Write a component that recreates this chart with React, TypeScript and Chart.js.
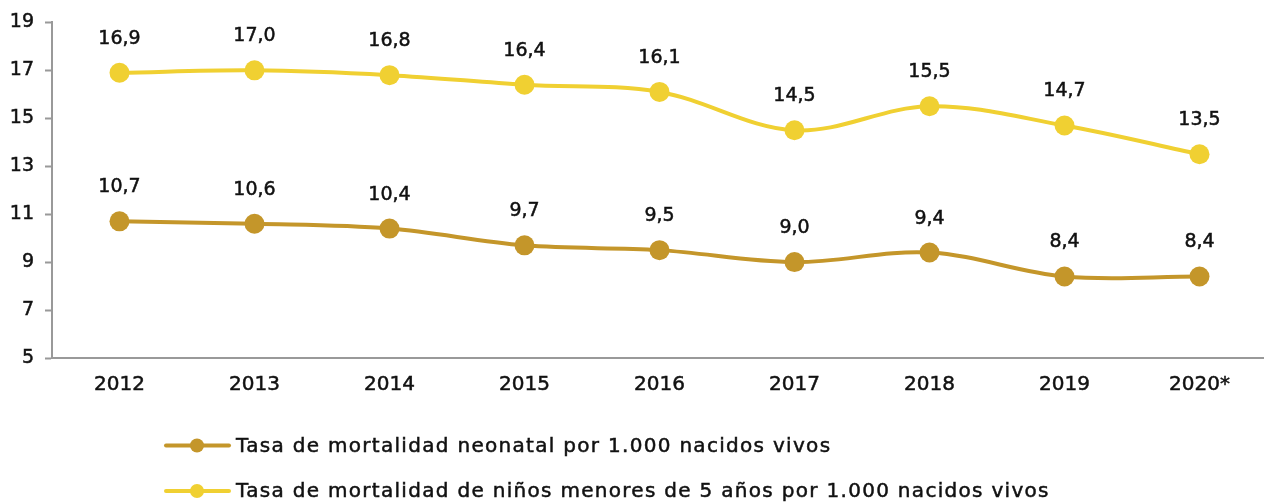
import React, { useEffect, useRef } from "react";
import { Chart, registerables } from "chart.js";
Chart.register(...registerables);

const categories = ["2012", "2013", "2014", "2015", "2016", "2017", "2018", "2019", "2020*"];
const neonatal = [10.7, 10.6, 10.4, 9.7, 9.5, 9.0, 9.4, 8.4, 8.4];
const under5 = [16.9, 17.0, 16.8, 16.4, 16.1, 14.5, 15.5, 14.7, 13.5];
const yTicks = [5, 7, 9, 11, 13, 15, 17, 19];
const seriesNames = [
  "Tasa de mortalidad neonatal por 1.000 nacidos vivos",
  "Tasa de mortalidad de niños menores de 5 años por 1.000 nacidos vivos",
];
const colors = ["#C4962A", "#F0D032"];
const FONT = "'DejaVu Sans', sans-serif";
const TEXT = "#111";
const STROKE = 0.5;

const labelPlugin = {
  id: "valueLabels",
  afterDatasetsDraw(chart: any) {
    const ctx = chart.ctx;
    ctx.save();
    ctx.font = `19px ${FONT}`;
    ctx.fillStyle = TEXT;
    ctx.strokeStyle = TEXT;
    ctx.lineWidth = STROKE;
    ctx.textAlign = "center";
    ctx.textBaseline = "alphabetic";
    chart.data.datasets.forEach((ds: any, i: number) => {
      const meta = chart.getDatasetMeta(i);
      meta.data.forEach((pt: any, j: number) => {
        const v = ds.data[j] as number;
        const s = v.toFixed(1).replace(".", ",");
        ctx.fillText(s, pt.x, pt.y - 29);
        ctx.strokeText(s, pt.x, pt.y - 29);
      });
    });
    ctx.restore();
  },
};

const legendPlugin = {
  id: "customLegend",
  afterDraw(chart: any) {
    const ctx = chart.ctx;
    ctx.save();
    const rows = [445.5, 491];
    seriesNames.forEach((name, i) => {
      const y = rows[i];
      ctx.strokeStyle = colors[i];
      ctx.lineWidth = 4;
      ctx.lineCap = "round";
      ctx.beginPath();
      ctx.moveTo(166, y);
      ctx.lineTo(229, y);
      ctx.stroke();
      ctx.fillStyle = colors[i];
      ctx.beginPath();
      ctx.arc(197, y, 7, 0, Math.PI * 2);
      ctx.fill();
      ctx.font = `20px ${FONT}`;
      (ctx as any).letterSpacing = "1.3px";
      ctx.fillStyle = TEXT;
      ctx.strokeStyle = TEXT;
      ctx.lineWidth = STROKE;
      ctx.textAlign = "left";
      ctx.textBaseline = "alphabetic";
      ctx.fillText(name, 236, y + 6);
      ctx.strokeText(name, 236, y + 6);
      (ctx as any).letterSpacing = "0px";
    });
    ctx.restore();
  },
};

export default function App() {
  const ref = useRef<HTMLCanvasElement>(null);
  useEffect(() => {
    const canvas = ref.current!;
    const chart = new Chart(canvas, {
      type: "line",
      data: {
        labels: categories,
        datasets: [
          {
            label: seriesNames[0],
            data: neonatal,
            borderColor: colors[0],
            backgroundColor: colors[0],
            borderWidth: 4,
            pointRadius: 10,
            pointBorderWidth: 0,
            tension: 0.35,
          },
          {
            label: seriesNames[1],
            data: under5,
            borderColor: colors[1],
            backgroundColor: colors[1],
            borderWidth: 4,
            pointRadius: 10,
            pointBorderWidth: 0,
            tension: 0.35,
          },
        ],
      },
      options: {
        responsive: false,
        animation: false,
        layout: { autoPadding: false, padding: { top: 22, bottom: 104, left: 0, right: 0 } },
        plugins: { legend: { display: false }, tooltip: { enabled: false } },
        scales: {
          x: {
            offset: true,
            grid: { display: false, drawTicks: false },
            border: { color: "#999", width: 2 },
            ticks: {
              color: TEXT,
              font: { family: FONT, size: 20 },
              padding: 15,
              textStrokeColor: TEXT,
              textStrokeWidth: STROKE,
            },
            afterFit: (s: any) => { s.height = 40; },
          },
          y: {
            min: 5,
            max: 19,
            afterBuildTicks: (s: any) => { s.ticks = yTicks.map((v) => ({ value: v })); },
            grid: { drawOnChartArea: false, tickLength: 7, color: "#999", tickWidth: 2 },
            border: { color: "#999", width: 2 },
            ticks: {
              color: TEXT,
              font: { family: FONT, size: 19 },
              padding: 11,
              textStrokeColor: TEXT,
              textStrokeWidth: STROKE,
            },
            afterFit: (s: any) => { s.width = 52; },
          },
        },
      },
      plugins: [labelPlugin, legendPlugin],
    });
    return () => chart.destroy();
  }, []);
  return (
    <div style={{ position: "fixed", left: 0, top: 0, width: 1264, height: 502, overflow: "hidden", background: "#fff" }}>
      <canvas ref={ref} width={1267} height={502} style={{ display: "block" }} />
    </div>
  );
}
